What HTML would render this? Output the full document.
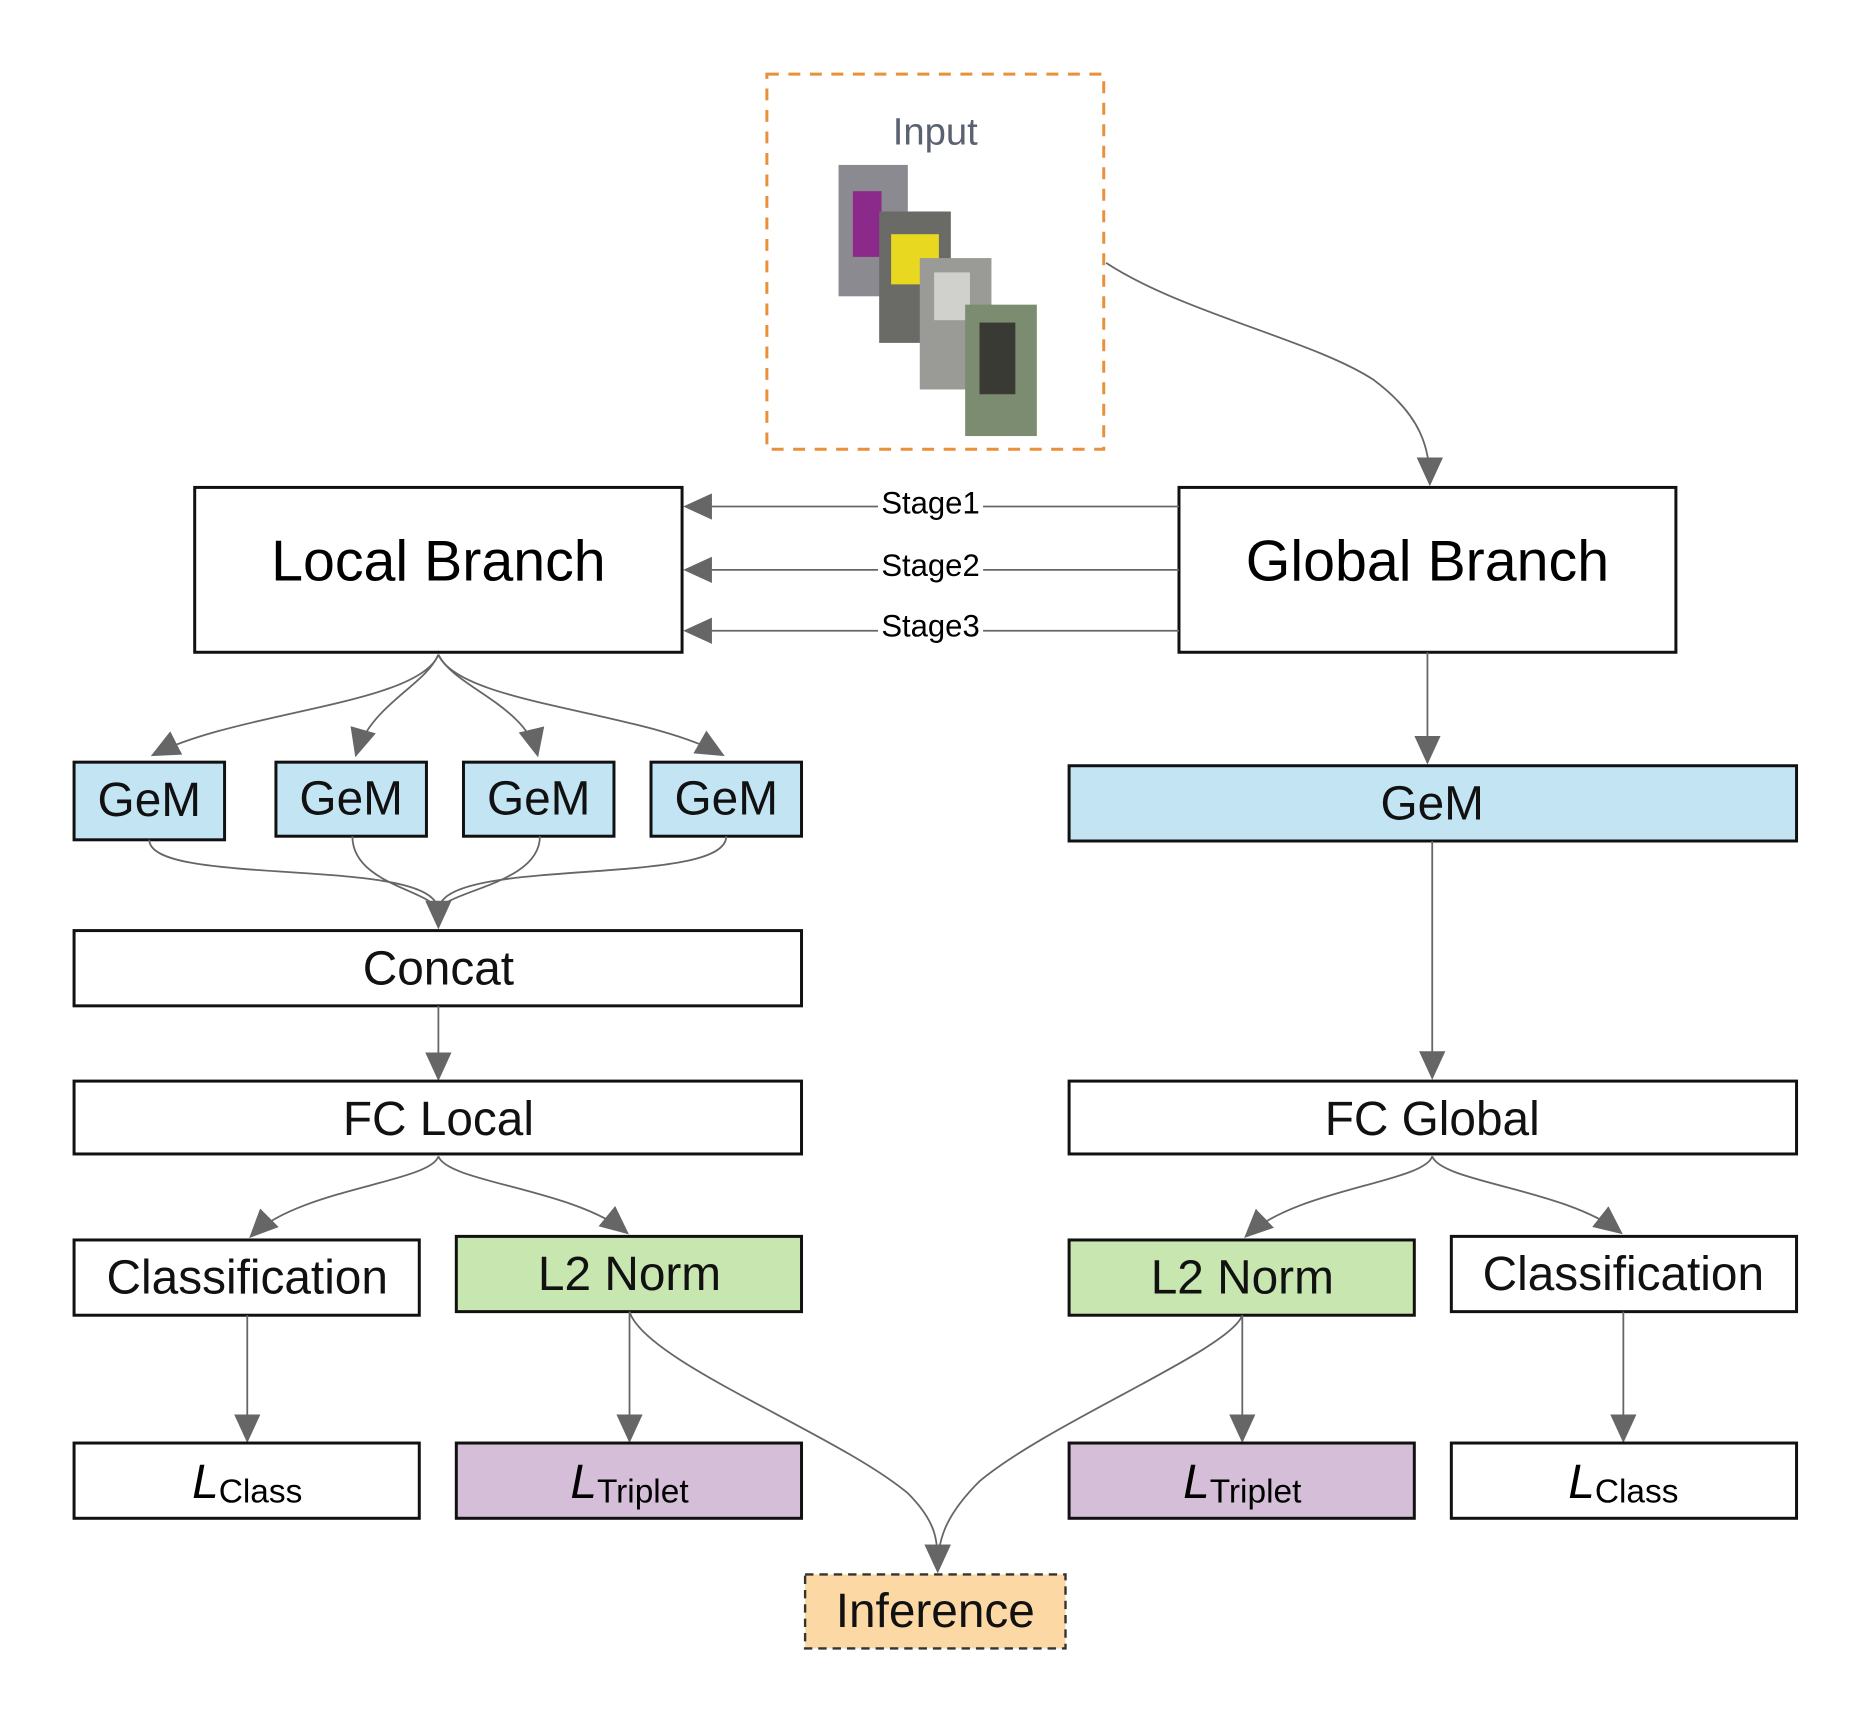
<!DOCTYPE html>
<html><head><meta charset="utf-8"><style>
html,body{margin:0;padding:0;background:#fff;}
svg{display:block;}
text{font-family:"Liberation Sans",sans-serif;}
</style></head><body>
<svg width="1873" height="1725" viewBox="0 0 1568 1444" xmlns="http://www.w3.org/2000/svg">
<defs>
<marker id="b" markerWidth="24" markerHeight="22" refX="22" refY="11" orient="auto" markerUnits="userSpaceOnUse" viewBox="0 0 24 22">
<path d="M0,0 L24,11 L0,22 Z" fill="#666"/></marker>
</defs>
<style>.l{fill:none;stroke:#666;stroke-width:1.5;marker-end:url(#b);}
.n{fill:none;stroke:#666;stroke-width:1.5;}
.bx{stroke:#111;stroke-width:2.5;}
.t{font-size:40px;text-anchor:middle;fill:#111;}</style>

<rect x="642" y="62" width="282" height="314" fill="none" stroke="#e8903a" stroke-width="2.5" stroke-dasharray="10,8"/>
<text x="783" y="121" font-size="32" text-anchor="middle" fill="#5a6270">Input</text>
<rect x="702" y="138" width="58" height="110" fill="#8a8a90"/>
<rect x="714" y="160" width="24" height="55" fill="#8b2a8a"/>
<rect x="736" y="177" width="60" height="110" fill="#6a6a66"/>
<rect x="746" y="196" width="40" height="42" fill="#e8d820"/>
<rect x="770" y="216" width="60" height="110" fill="#9a9a96"/>
<rect x="782" y="228" width="30" height="40" fill="#d0d0cc"/>
<rect x="808" y="255" width="60" height="110" fill="#7c8c70"/>
<rect x="820" y="270" width="30" height="60" fill="#3a3a34"/>

<path class="l" d="M926,220 C990,262 1100,285 1150,318 C1190,348 1197,375 1197,405"/>

<rect class="bx" x="163" y="408" width="408" height="138" fill="#fff"/>
<text x="367" y="486" font-size="48" text-anchor="middle">Local Branch</text>
<rect class="bx" x="987" y="408" width="416" height="138" fill="#fff"/>
<text x="1195" y="486" font-size="48" text-anchor="middle">Global Branch</text>

<path class="l" d="M987,424 L574,424"/>
<path class="l" d="M987,477 L574,477"/>
<path class="l" d="M987,528 L574,528"/>
<rect x="735" y="408" width="88" height="26" fill="#fff"/>
<rect x="735" y="461" width="88" height="26" fill="#fff"/>
<rect x="735" y="512" width="88" height="26" fill="#fff"/>
<text x="779" y="430" font-size="26" text-anchor="middle">Stage1</text>
<text x="779" y="482" font-size="26" text-anchor="middle">Stage2</text>
<text x="779" y="533" font-size="26" text-anchor="middle">Stage3</text>

<path class="l" d="M367,548 C350,590 200,595 128,632"/>
<path class="l" d="M367,548 C355,575 310,590 298,632"/>
<path class="l" d="M367,548 C380,575 440,590 450,632"/>
<path class="l" d="M367,548 C385,590 540,595 605,632"/>

<g fill="#c3e4f3">
<rect class="bx" x="62" y="638" width="126" height="65"/>
<rect class="bx" x="231" y="638" width="126" height="62"/>
<rect class="bx" x="388" y="638" width="126" height="62"/>
<rect class="bx" x="545" y="638" width="126" height="62"/>
<rect class="bx" x="895" y="641" width="609" height="63"/>
</g>
<text class="t" x="125" y="683">GeM</text>
<text class="t" x="294" y="682">GeM</text>
<text class="t" x="451" y="682">GeM</text>
<text class="t" x="608" y="682">GeM</text>
<text class="t" x="1199" y="686">GeM</text>

<path class="n" d="M125,703 C125,740 330,720 362,752 C367,757 367,760 367,762"/>
<path class="n" d="M295,700 C295,740 360,745 367,762"/>
<path class="n" d="M452,700 C452,740 375,745 367,762"/>
<path class="n" d="M608,700 C608,740 405,720 372,752 C367,757 367,760 367,762"/>
<path class="l" d="M367,755 L367,776"/>

<rect class="bx" x="62" y="779" width="609" height="63" fill="#fff"/>
<text class="t" x="367" y="824">Concat</text>
<path class="l" d="M367,842 L367,903"/>
<path class="l" d="M1195,546 L1195,638"/>
<path class="l" d="M1199,704 L1199,902"/>

<rect class="bx" x="62" y="905" width="609" height="61" fill="#fff"/>
<text class="t" x="367" y="950">FC Local</text>
<rect class="bx" x="895" y="905" width="609" height="61" fill="#fff"/>
<text class="t" x="1199" y="950">FC Global</text>

<path class="l" d="M367,968 C360,990 250,995 210,1035"/>
<path class="l" d="M367,968 C375,990 480,995 525,1032"/>
<path class="l" d="M1199,968 C1192,990 1085,995 1043,1035"/>
<path class="l" d="M1199,968 C1207,990 1310,995 1357,1032"/>

<rect class="bx" x="62" y="1038" width="289" height="63" fill="#fff"/>
<text class="t" x="207" y="1083">Classification</text>
<rect class="bx" x="382" y="1035" width="289" height="63" fill="#c8e6b0"/>
<text class="t" x="527" y="1080">L2 Norm</text>
<rect class="bx" x="895" y="1038" width="289" height="63" fill="#c8e6b0"/>
<text class="t" x="1040" y="1083">L2 Norm</text>
<rect class="bx" x="1215" y="1035" width="289" height="63" fill="#fff"/>
<text class="t" x="1359" y="1080">Classification</text>

<path class="l" d="M207,1101 L207,1206"/>
<path class="l" d="M527,1098 L527,1206"/>
<path class="l" d="M1040,1101 L1040,1206"/>
<path class="l" d="M1359,1098 L1359,1206"/>
<path class="l" d="M527,1098 C540,1140 700,1200 760,1250 C785,1275 785,1290 785,1315"/>
<path class="l" d="M1040,1101 C1030,1130 880,1190 820,1240 C790,1270 785,1290 785,1315"/>

<rect class="bx" x="62" y="1208" width="289" height="63" fill="#fff"/>
<rect class="bx" x="382" y="1208" width="289" height="63" fill="#d5bfd8"/>
<rect class="bx" x="895" y="1208" width="289" height="63" fill="#d5bfd8"/>
<rect class="bx" x="1215" y="1208" width="289" height="63" fill="#fff"/>
<text x="207" y="1254" text-anchor="middle"><tspan font-size="40" font-style="italic">L</tspan><tspan font-size="28" dy="4">Class</tspan></text>
<text x="527" y="1254" text-anchor="middle"><tspan font-size="40" font-style="italic">L</tspan><tspan font-size="28" dy="4">Triplet</tspan></text>
<text x="1040" y="1254" text-anchor="middle"><tspan font-size="40" font-style="italic">L</tspan><tspan font-size="28" dy="4">Triplet</tspan></text>
<text x="1359" y="1254" text-anchor="middle"><tspan font-size="40" font-style="italic">L</tspan><tspan font-size="28" dy="4">Class</tspan></text>

<rect x="674" y="1318" width="218" height="62" fill="#fcd9a4" stroke="#333" stroke-width="2" stroke-dasharray="7,5"/>
<text class="t" x="783" y="1362">Inference</text>
</svg>
</body></html>
